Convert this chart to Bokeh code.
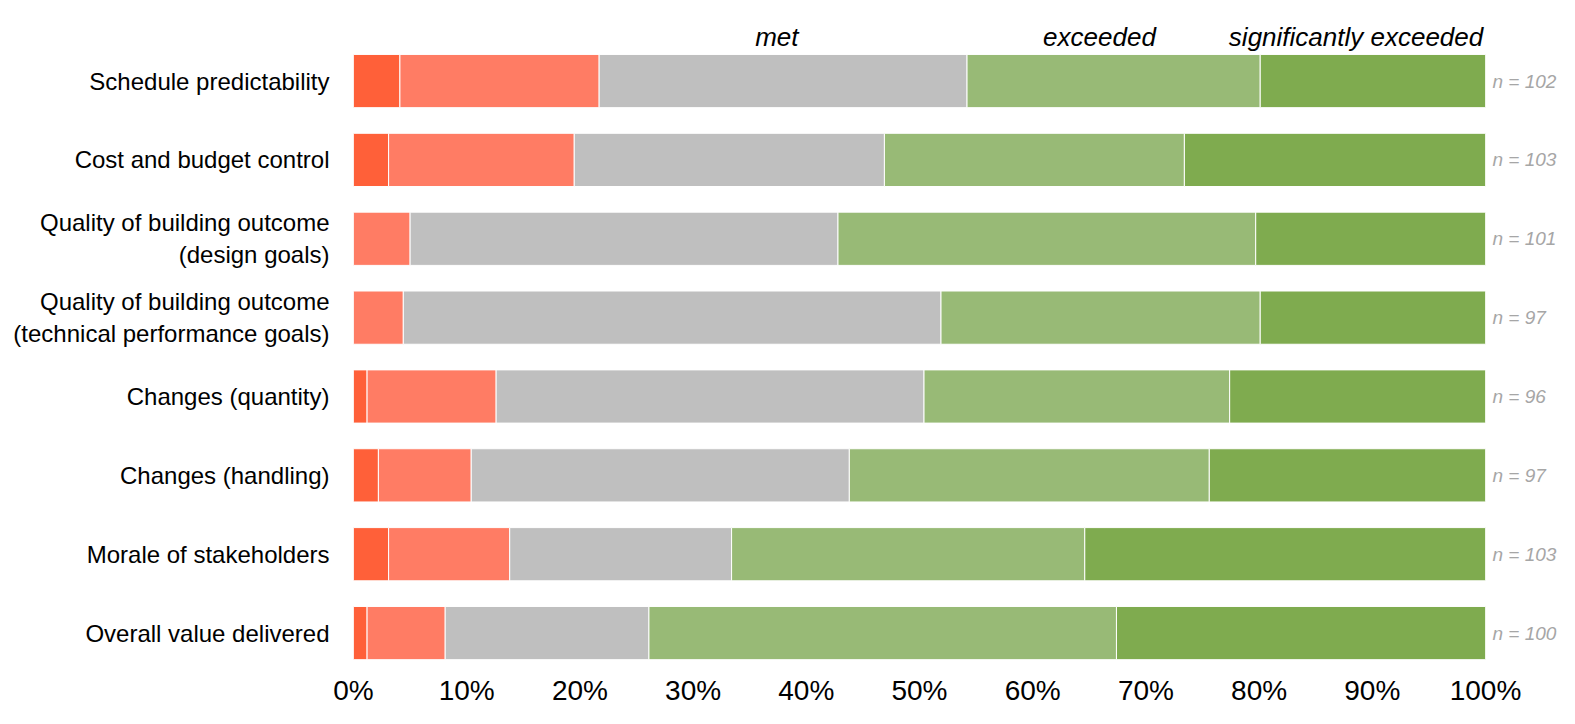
from bokeh.plotting import figure
from bokeh.models import ColumnDataSource, Range1d, FixedTicker, LinearAxis
from bokeh.embed import file_html
from bokeh.resources import INLINE
from bokeh.core.properties import value

categories = [
    "Schedule predictability",
    "Cost and budget control",
    "Quality of building outcome\n(design goals)",
    "Quality of building outcome\n(technical performance goals)",
    "Changes (quantity)",
    "Changes (handling)",
    "Morale of stakeholders",
    "Overall value delivered",
]
n_counts = [102, 103, 101, 97, 96, 97, 103, 100]

sig_not_met = [4.1, 3.1, 0.0, 0.0, 1.2, 2.2, 3.1, 1.2]
not_met = [17.6, 16.4, 5.0, 4.4, 11.4, 8.2, 10.7, 6.9]
met = [32.5, 27.4, 37.8, 47.5, 37.8, 33.4, 19.6, 18.0]
exceeded = [25.9, 26.5, 36.9, 28.2, 27.0, 31.8, 31.2, 41.3]
sig_exceeded = [19.9, 26.6, 20.3, 19.9, 22.6, 24.4, 35.4, 32.6]

series_names = ["sig_not_met", "not_met", "met", "exceeded", "sig_exceeded"]
colors = ["#FF6039", "#FF7C64", "#BFBFBF", "#98BA76", "#7FAB4F"]

header_labels = ["met", "exceeded", "significantly exceeded"]

x_ticks = [0, 10, 20, 30, 40, 50, 60, 70, 80, 90, 100]
x_tick_labels = ["0%", "10%", "20%", "30%", "40%", "50%", "60%", "70%", "80%", "90%", "100%"]

rows = list(range(len(categories), 0, -1))

source = ColumnDataSource(dict(
    y=rows,
    sig_not_met=sig_not_met,
    not_met=not_met,
    met=met,
    exceeded=exceeded,
    sig_exceeded=sig_exceeded,
))

p = figure(
    width=1559, height=708,
    output_backend="svg", toolbar_location=None,
    x_range=Range1d(0, 100), y_range=Range1d(0.5, 8.92),
    min_border_left=353, min_border_right=70, min_border_top=8, min_border_bottom=36,
    y_axis_location=None,
)
p.outline_line_color = None
p.xgrid.grid_line_color = None
p.ygrid.grid_line_color = None

p.hbar_stack(series_names, y="y", height=0.675, color=colors, source=source,
             line_color="white", line_width=1)

# header labels
hdr_y = len(categories) + 0.554
p.text(x=[37.4, 65.9], y=[hdr_y, hdr_y], text=header_labels[:2],
       text_align="center", text_baseline="alphabetic",
       text_font=value("Liberation Sans"), text_font_style="italic",
       text_font_size="26px", text_color="#000000")
p.text(x=[99.8], y=[hdr_y], text=header_labels[2:],
       text_align="right", text_baseline="alphabetic",
       text_font=value("Liberation Sans"), text_font_style="italic",
       text_font_size="26px", text_color="#000000")

# x axis
xa = p.xaxis[0]
xa.ticker = FixedTicker(ticks=x_ticks)
xa.major_label_overrides = {t: l for t, l in zip(x_ticks, x_tick_labels)}
xa.axis_line_color = None
xa.major_tick_line_color = None
xa.minor_tick_line_color = None
xa.major_tick_in = 0
xa.major_tick_out = 0
xa.major_label_standoff = 2
xa.major_label_text_font = "Liberation Sans"
xa.major_label_text_font_size = "28px"
xa.major_label_text_color = "#000000"

# left category axis
ya = LinearAxis(ticker=FixedTicker(ticks=rows),
                major_label_overrides={r: c for r, c in zip(rows, categories)})
ya.axis_line_color = None
ya.major_tick_line_color = None
ya.minor_tick_line_color = None
ya.major_tick_in = 0
ya.major_tick_out = 0
ya.major_label_standoff = 24
ya.major_label_text_font = "Liberation Sans"
ya.major_label_text_font_size = "24px"
ya.major_label_text_color = "#000000"
p.add_layout(ya, "left")

# right n axis
ra = LinearAxis(ticker=FixedTicker(ticks=rows),
                major_label_overrides={r: "n = %d" % n for r, n in zip(rows, n_counts)})
ra.axis_line_color = None
ra.major_tick_line_color = None
ra.minor_tick_line_color = None
ra.major_tick_in = 0
ra.major_tick_out = 0
ra.major_label_standoff = 7
ra.major_label_text_font = "Liberation Sans"
ra.major_label_text_font_style = "italic"
ra.major_label_text_font_size = "19px"
ra.major_label_text_color = "#A6A6A6"
p.add_layout(ra, "right")

open("out.html", "w").write(file_html(p, INLINE))
